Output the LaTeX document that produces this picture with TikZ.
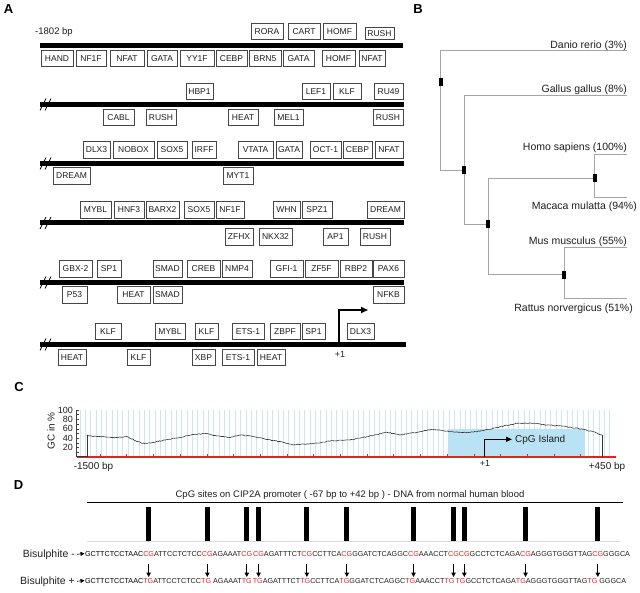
\documentclass[tikz,border=0pt]{standalone}
\usepackage{fontspec}
\setmainfont{Liberation Sans}
\usetikzlibrary{arrows.meta,decorations.pathmorphing}
\definecolor{tfborder}{RGB}{70,70,70}
\definecolor{treegray}{RGB}{165,165,165}
\definecolor{gridblue}{RGB}{205,230,240}
\definecolor{islandblue}{RGB}{185,226,245}
\definecolor{cpgred}{RGB}{225,35,35}
\definecolor{txt}{RGB}{30,30,30}
\newcommand\tfbx[5]{\pgfmathsetmacro\tfw{#3-#2}\pgfmathsetmacro\tfc{(#2+#3)/2}%
  \node[tfbox, minimum width=\tfw pt] (#1) at (\tfc,#4) {#5};}
\newcommand\sq[4]{\node[seqtxt, text=#3] (#1) at (#2.base east) {#4};}
\newcommand\brkmark[1]{\draw[brk] (40,#1+6) -- (46,#1-6); \draw[brk] (45,#1+6) -- (51,#1-6);}
\begin{document}
\begin{tikzpicture}[x=1pt,y=-1pt,
  tfbox/.style={draw=tfborder, line width=1pt, fill=white, inner sep=0pt, minimum height=16.5pt, font=\fontsize{8.5}{9.5}\selectfont, text=txt},
  dnabar/.style={line width=5pt, draw=black},
  brk/.style={line width=0.8pt, draw=black},
  tree/.style={draw=treegray, line width=0.8pt},
  tnode/.style={fill=black, minimum width=4pt, minimum height=8pt, inner sep=0pt},
  leaf/.style={font=\fontsize{10.5}{12}\selectfont, inner sep=0pt, anchor=base east, text=txt},
  panel/.style={font=\bfseries\fontsize{13}{15}\selectfont, inner sep=0pt},
  smalltxt/.style={font=\fontsize{9}{10}\selectfont, inner sep=0pt, text=txt},
  midtxt/.style={font=\fontsize{10}{11}\selectfont, inner sep=0pt, text=txt},
  seqtxt/.style={font=\fontsize{7.2}{8}\selectfont, inner sep=0pt, outer sep=0pt, anchor=base west},
  cpgbar/.style={fill=black, minimum width=5pt, minimum height=34pt, inner sep=0pt},
  seqarrow/.style={-{Triangle[length=4.5pt,width=4.5pt]}, line width=1pt},
  startarrow/.style={-{Triangle[length=4pt,width=4pt]}, line width=0.6pt},
  tssarrow/.style={-{Triangle[length=7pt,width=6pt]}, line width=1.6pt},
  islarrow/.style={-{Triangle[length=6pt,width=5pt]}, line width=1.1pt},
]
\useasboundingbox (0,0) rectangle (640,593);

% ---------------- Panel labels
\node[panel] (lA) at (8.5,9.5) {A};
\node[panel] (lB) at (418,9.5) {B};
\node[panel] (lC) at (19,387.5) {C};
\node[panel] (lD) at (18.5,485) {D};

% ---------------- Panel A
\node[font=\fontsize{9.5}{10}\selectfont, inner sep=0pt, text=txt] (bp1802) at (54,32.5) {-1802 bp};
\draw[dnabar] (40,45.5) -- (403,45.5);
\draw[dnabar] (40,104.5) -- (404,104.5);
\draw[dnabar] (40,163.5) -- (404,163.5);
\draw[dnabar] (40,223) -- (404,223);
\draw[dnabar] (40,282.5) -- (404,282.5);
\draw[dnabar] (40,344.5) -- (406,344.5);
\brkmark{104.5}\brkmark{163.5}\brkmark{223}\brkmark{282.5}\brkmark{344.5}

% row 1
\tfbx{r1a1}{251}{283}{31.5}{RORA}
\tfbx{r1a2}{288}{320}{31.5}{CART}
\tfbx{r1a3}{323}{356}{31.5}{HOMF}
\node[tfbox, minimum width=29pt, minimum height=12.5pt] (r1a4) at (379.5,33.5) {RUSH};
\tfbx{r1b1}{41}{73}{58.5}{HAND}
\tfbx{r1b2}{76}{106}{58.5}{NF1F}
\tfbx{r1b3}{110}{144}{58.5}{NFAT}
\tfbx{r1b4}{147}{177}{58.5}{GATA}
\tfbx{r1b5}{180}{214}{58.5}{YY1F}
\tfbx{r1b6}{216}{247}{58.5}{CEBP}
\tfbx{r1b7}{249}{281}{58.5}{BRN5}
\tfbx{r1b8}{283}{314}{58.5}{GATA}
\tfbx{r1b9}{322}{355}{58.5}{HOMF}
\tfbx{r1b10}{359}{385}{58.5}{NFAT}
% row 2
\tfbx{r2a1}{186}{213}{91.3}{HBP1}
\tfbx{r2a2}{302}{330}{91.3}{LEF1}
\tfbx{r2a3}{333}{361}{91.3}{KLF}
\tfbx{r2a4}{374}{403}{91.3}{RU49}
\tfbx{r2b1}{103}{134}{117.5}{CABL}
\tfbx{r2b2}{146}{176}{117.5}{RUSH}
\tfbx{r2b3}{228}{258}{117.5}{HEAT}
\tfbx{r2b4}{274}{303}{117.5}{MEL1}
\tfbx{r2b5}{373}{403}{117.5}{RUSH}
% row 3
\tfbx{r3a1}{83}{110}{150}{DLX3}
\tfbx{r3a2}{113}{154}{150}{NOBOX}
\tfbx{r3a3}{157}{187}{150}{SOX5}
\tfbx{r3a4}{192}{216}{150}{IRFF}
\tfbx{r3a5}{238}{273}{150}{VTATA}
\tfbx{r3a6}{276}{302}{150}{GATA}
\tfbx{r3a7}{310}{341}{150}{OCT-1}
\tfbx{r3a8}{343}{372}{150}{CEBP}
\tfbx{r3a9}{375}{403}{150}{NFAT}
\tfbx{r3b1}{53}{90}{176}{DREAM}
\tfbx{r3b2}{223}{253}{176}{MYT1}
% row 4
\tfbx{r4a1}{80}{111}{210}{MYBL}
\tfbx{r4a2}{114}{144}{210}{HNF3}
\tfbx{r4a3}{146}{179}{210}{BARX2}
\tfbx{r4a4}{184}{214}{210}{SOX5}
\tfbx{r4a5}{216}{244}{210}{NF1F}
\tfbx{r4a6}{273}{300}{210}{WHN}
\tfbx{r4a7}{302}{332}{210}{SPZ1}
\tfbx{r4a8}{367}{404}{210}{DREAM}
\tfbx{r4b1}{225}{253}{237}{ZFHX}
\tfbx{r4b2}{259}{292}{237}{NKX32}
\tfbx{r4b3}{323}{348}{237}{AP1}
\tfbx{r4b4}{360}{390}{237}{RUSH}
% row 5
\tfbx{r5a1}{59}{92}{269}{GBX-2}
\tfbx{r5a2}{97}{121}{269}{SP1}
\tfbx{r5a3}{153}{182}{269}{SMAD}
\tfbx{r5a4}{187}{220}{269}{CREB}
\tfbx{r5a5}{222}{252}{269}{NMP4}
\tfbx{r5a6}{270}{303}{269}{GFI-1}
\tfbx{r5a7}{305}{338}{269}{ZF5F}
\tfbx{r5a8}{340}{372}{269}{RBP2}
\tfbx{r5a9}{373}{404}{269}{PAX6}
\tfbx{r5b1}{62}{87}{295}{P53}
\tfbx{r5b2}{117}{150}{295}{HEAT}
\tfbx{r5b3}{153}{182}{295}{SMAD}
\tfbx{r5b4}{373}{404}{295}{NFKB}
% row 6
\tfbx{r6a1}{95}{121}{331.5}{KLF}
\tfbx{r6a2}{155}{185}{331.5}{MYBL}
\tfbx{r6a3}{195}{218}{331.5}{KLF}
\tfbx{r6a4}{232}{264}{331.5}{ETS-1}
\tfbx{r6a5}{270}{300}{331.5}{ZBPF}
\tfbx{r6a6}{302}{325}{331.5}{SP1}
\tfbx{r6a7}{347}{374}{331.5}{DLX3}
\tfbx{r6b1}{58}{86}{357.5}{HEAT}
\tfbx{r6b2}{127}{150}{357.5}{KLF}
\tfbx{r6b3}{192}{215}{357.5}{XBP}
\tfbx{r6b4}{222}{254}{357.5}{ETS-1}
\tfbx{r6b5}{257}{285}{357.5}{HEAT}
\coordinate (tss) at (339,342);
\coordinate (tssend) at (368,310);
\draw[tssarrow] (tss) |- (tssend);
\node[smalltxt] (plusA) at (340,354) {+1};

% ---------------- Panel B
\coordinate (n1) at (440.7,82);
\coordinate (n2) at (464.3,170);
\coordinate (n3) at (488.3,224.3);
\coordinate (n4) at (594.5,178.5);
\coordinate (n5) at (564,275);
\coordinate (danio) at (627,50.7);
\coordinate (gallus) at (627,95);
\coordinate (homo) at (627,154);
\coordinate (macaca) at (627,197.3);
\coordinate (mus) at (627,247.7);
\coordinate (rattus) at (627,298.3);
\draw[tree] (danio) -| (440.7,170) -- (464.3,170);
\draw[tree] (gallus) -| (464.3,224.3) -- (488.3,224.3);
\draw[tree] (594.5,178.5) -| (488.3,274.3) -- (564,274.3);
\draw[tree] (homo) -| (594.5,197.3) -- (macaca);
\draw[tree] (mus) -| (564,298.3) -- (rattus);
\node[tnode] (bn1) at (n1) {};
\node[tnode] (bn2) at (n2) {};
\node[tnode] (bn3) at (n3) {};
\node[tnode] (bn4) at (n4) {};
\node[tnode] (bn5) at (n5) {};
\node[leaf] (tdanio) at (627,49) {Danio rerio (3\%)};
\node[leaf] (tgallus) at (627,92.5) {Gallus gallus (8\%)};
\node[leaf] (thomo) at (627,150.5) {Homo sapiens (100\%)};
\node[leaf] (tmacaca) at (637,209.5) {Macaca mulatta (94\%)};
\node[leaf] (tmus) at (627,244.5) {Mus musculus (55\%)};
\node[leaf] (trattus) at (633,311.5) {Rattus norvergicus (51\%)};

% ---------------- Panel C
\foreach \x in {80,85.35,...,615} \draw[gridblue, line width=0.7pt] (\x,410) -- (\x,456);
\fill[islandblue] (448,429) rectangle (585,456.5);
\draw[black!75, line width=0.6pt] (76.5,410) -- (76.5,457);
\foreach \v in {0,10,...,100} \draw[black!75, line width=0.5pt] (76.5,{457-0.47*\v}) -- ++(2.5,0);
\foreach \v in {20,40,60,80,100} \node[smalltxt, anchor=east] (yt\v) at (73,{457-0.47*\v}) {\v};
\node[midtxt, rotate=90] (gcl) at (51,431) {GC in \%};
\draw[cpgred, line width=1.8pt] (76.5,457) -- (616,457);
\foreach \x in {100,126.7,...,600} \draw[cpgred, line width=0.6pt] (\x,457) -- (\x,453.5);
\draw[black!80, line width=0.7pt] (76.5,456.5) -- (87,456.5) -- (87,435);
\draw[black!80, line width=0.7pt] (602,435) -- (602,456.5);
\draw[black!80, line width=0.6pt, decorate, decoration={random steps, segment length=1.6pt, amplitude=0.45pt}]
  (87,435) -- (93,436.5) -- (100,436.5) -- (113,437.5) -- (120,437) -- (127,436.5) -- (137,441.5) -- (144,443.5) -- (153,442.5) -- (167,439.5) -- (180,437.5) -- (193,434.5) -- (207,433.5) -- (217,436) -- (230,437.5) -- (240,435) -- (253,436.5) -- (267,439.5) -- (280,441.5) -- (293,445) -- (307,444) -- (317,443) -- (333,440.7) -- (350,440) -- (367,436.7) -- (387,432.3) -- (400,435) -- (417,432.3) -- (433,429.3) -- (450,431.7) -- (467,432.7) -- (483,430.7) -- (500,426.7) -- (517,423.3) -- (533,423.3) -- (547,425) -- (567,426.7) -- (583,429.3) -- (593,431.7) -- (602,435);
\coordinate (isl) at (484.3,457);
\coordinate (islend) at (512,439.3);
\draw[islarrow] (isl) |- (islend);
\node[midtxt, anchor=west] (cpgi) at (515,439.5) {CpG Island};
\node[smalltxt] (plusC) at (485,463.5) {+1};
\node[midtxt] (m1500) at (93.5,467) {-1500 bp};
\node[midtxt] (p450) at (607,467) {+450 bp};

% ---------------- Panel D
\node[font=\fontsize{9.5}{11}\selectfont, text=txt, inner sep=0pt] (dhead) at (350,495.5) {CpG sites on CIP2A promoter ( -67 bp to +42 bp ) - DNA from normal human blood};
\draw[black, line width=0.7pt] (87,502) -- (623,502);
\draw[black!15, line width=0.6pt] (87,541.5) -- (620,541.5);

\node[seqtxt] (m0) at (85,556) {GCTTCTCCTAAC};
\sq{c1}{m0}{cpgred}{CG}
\sq{m1}{c1}{txt}{ATTCCTCTCC}
\sq{c2}{m1}{cpgred}{CG}
\sq{m2}{c2}{txt}{AGAAAT}
\sq{c3}{m2}{cpgred}{CG}
\sq{m3}{c3}{txt}{\ }
\sq{c4}{m3}{cpgred}{CG}
\sq{m4}{c4}{txt}{AGATTTCT}
\sq{c5}{m4}{cpgred}{CG}
\sq{m5}{c5}{txt}{CCTTCA}
\sq{c6}{m5}{cpgred}{CG}
\sq{m6}{c6}{txt}{GGATCTCAGGC}
\sq{c7}{m6}{cpgred}{CG}
\sq{m7}{c7}{txt}{AAACCT}
\sq{c8}{m7}{cpgred}{CG}
\sq{c9}{c8}{cpgred}{CG}
\sq{m9}{c9}{txt}{GCCTCTCAGA}
\sq{c10}{m9}{cpgred}{CG}
\sq{m10}{c10}{txt}{AGGGTGGGTTAG}
\sq{c11}{m10}{cpgred}{CG}
\sq{m11}{c11}{txt}{GGGCA}

\node[seqtxt] (p0) at (85,583) {GCTTCTCCTAAC};
\sq{t1}{p0}{cpgred}{TG}
\sq{p1}{t1}{txt}{ATTCCTCTCC}
\sq{t2}{p1}{cpgred}{TG}
\sq{p2}{t2}{txt}{\ AGAAAT}
\sq{t3}{p2}{cpgred}{TG}
\sq{p3}{t3}{txt}{\ }
\sq{t4}{p3}{cpgred}{TG}
\sq{p4}{t4}{txt}{AGATTTCT\ }
\sq{t5}{p4}{cpgred}{TG}
\sq{p5}{t5}{txt}{CCTTCA}
\sq{t6}{p5}{cpgred}{TG}
\sq{p6}{t6}{txt}{GGATCTCAGGC\ }
\sq{t7}{p6}{cpgred}{TG}
\sq{p7}{t7}{txt}{AAACCT}
\sq{t8}{p7}{cpgred}{TG}
\sq{p8}{t8}{txt}{\ }
\sq{t9}{p8}{cpgred}{TG}
\sq{p9}{t9}{txt}{GCCTCTCAGA}
\sq{t10}{p9}{cpgred}{TG}
\sq{p10}{t10}{txt}{AGGGTGGGTTAG}
\sq{t11}{p10}{cpgred}{TG}
\sq{p11}{t11}{txt}{\ GGGCA}

\node[font=\fontsize{10.5}{12}\selectfont, text=txt, inner sep=0pt, anchor=base east] (lminus) at (75,557) {Bisulphite -};
\node[font=\fontsize{10.5}{12}\selectfont, text=txt, inner sep=0pt, anchor=base east] (lplus) at (75,584) {Bisulphite +};
\draw[startarrow] ([xshift=2pt]lminus.east) -- ([xshift=-0.5pt]m0.west);
\draw[startarrow] ([xshift=2pt]lplus.east) -- ([xshift=-0.5pt]p0.west);

\coordinate (barrow) at (0,524);
\coordinate (arrtop) at (0,564);
\coordinate (arrbot) at (0,577);
\foreach \i in {1,...,11} {
  \node[cpgbar] (bar\i) at (c\i |- barrow) {};
  \draw[seqarrow] (c\i |- arrtop) -- (c\i |- arrbot);
}
\end{tikzpicture}
\end{document}
